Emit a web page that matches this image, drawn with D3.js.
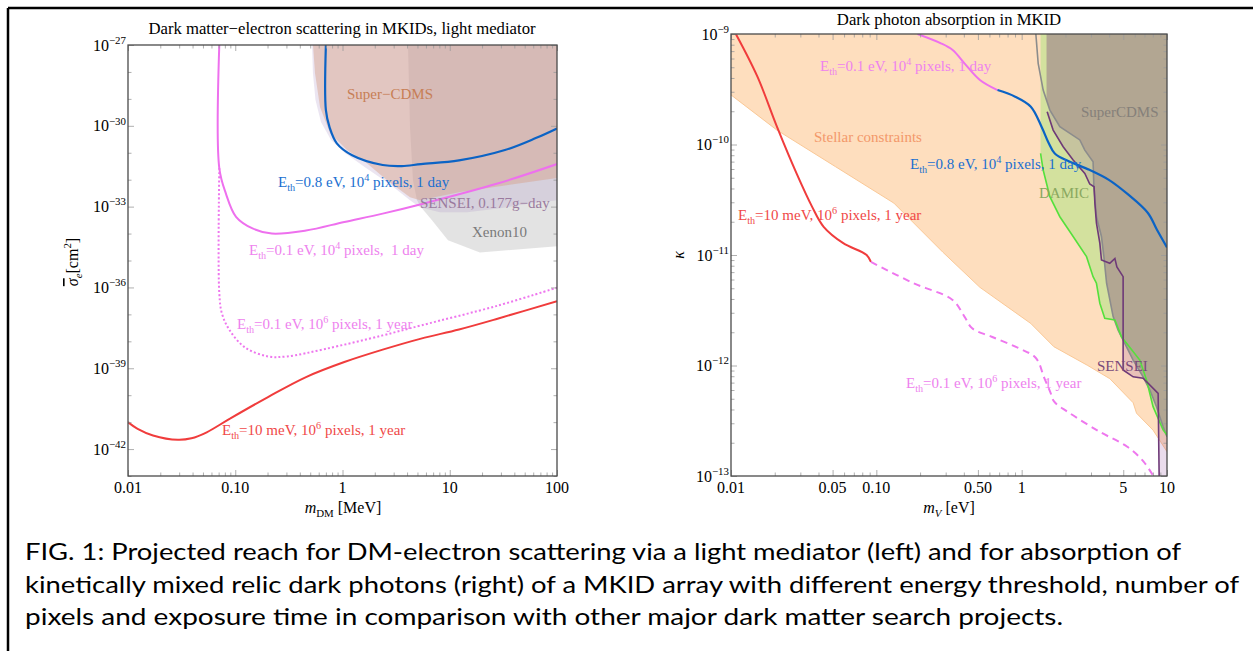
<!DOCTYPE html>
<html><head><meta charset="utf-8">
<script src="https://cdn.jsdelivr.net/npm/d3@7"></script>
<style>body{margin:0;background:#fff}svg{display:block}</style>
</head><body>
<svg id="c" width="1253" height="651"></svg>
<script>
// ---------------- LEFT PANEL DATA (m_DM in MeV, sigma_e in cm^2) ----------------
const leftBlueM=[0.70,0.70,0.757,0.885,1.23,2.37,3.57,5.4,12.2,32.7,63.4,100];
const leftBlueS=[1e-27,3.8e-30,8.9e-31,2.24e-31,8.1e-32,3.5e-32,3.2e-32,3.8e-32,5.2e-32,1.26e-31,3.5e-31,8.0e-31];
const leftMagDayM=[0.071,0.071,0.0817,0.1017,0.145,0.219,0.457,1.04,2.37,5.4,27.9,100];
const leftMagDayS=[1e-27,2.7e-32,3.1e-33,4.2e-34,1.55e-34,1.0e-34,1.3e-34,2.7e-34,5.5e-34,1.23e-33,7.2e-33,3.8e-32];
const leftMagYearM=[0.071,0.071,0.0752,0.0885,0.123,0.202,0.304,0.69,2.37,5.4,27.9,100];
const leftMagYearS=[2.7e-32,6.0e-37,1.07e-37,2.6e-38,6.0e-39,2.75e-39,2.75e-39,5.2e-39,1.66e-38,3.9e-38,2.1e-37,9.8e-37];
const leftRedM=[0.01,0.0123,0.0171,0.0292,0.039,0.0542,0.0885,0.202,0.457,1.04,2.37,5.4,12.2,27.9,100];
const leftRedS=[1.0e-41,5.6e-42,3.2e-42,2.2e-42,2.5e-42,4.2e-42,1.32e-41,8.5e-41,4.7e-40,1.7e-39,4.9e-39,1.26e-38,2.75e-38,6.9e-38,3.1e-37];
const superCdmsM=[0.531,0.554,0.617,0.765,1.10,1.69,2.60,4.26,5.28,12.5,100];
const superCdmsS=[1e-27,9.1e-29,5.0e-30,5.4e-31,1.26e-31,4.1e-32,9.5e-33,2.24e-33,1.74e-33,3.5e-33,1.15e-32];
const senseiLeftM=[0.52,0.53,0.56,0.63,0.782,1.055,1.62,2.77,4.26,5.28,8.1,14.5,29.4,59.7,100];
const senseiLeftS=[1e-27,9.1e-29,9.1e-30,1.38e-30,2.95e-31,9.8e-32,2.9e-32,6.8e-33,1.74e-33,9.5e-34,6.2e-34,6.2e-34,8.7e-34,1.35e-33,1.74e-33];
const xenonM=[4.08,4.26,4.54,4.95,5.4,6.83,9.63,19.1,100];
const xenonS=[1e-27,8.9e-31,9.5e-33,1.74e-33,9.5e-34,3.1e-34,5.6e-35,2.0e-35,3.4e-35];
const leftXTicks=[0.01,0.1,1,10,100];
const leftXTickLabels=["0.01","0.10","1","10","100"];
const leftYTickExps=[-27,-30,-33,-36,-39,-42];

// ---------------- RIGHT PANEL DATA (m_V in eV, kappa) ----------------
const stellarM=[0.01,0.0207,0.0524,0.132,0.287,0.516,1.156,1.665,2.85,4.04,5.85,6.17,8.02,10];
const stellarK=[2.81e-10,1.35e-10,6.3e-11,2.95e-11,1.06e-11,5.1e-12,2.4e-12,1.48e-12,1.0e-12,7.6e-13,4.6e-13,3.7e-13,2.6e-13,1.66e-13];
const damicM=[1.349,1.349,1.406,1.563,1.831,2.26,2.795,3.10,3.27,3.45,3.73,4.38,4.86,6.50,7.23,8.02,9.4,10];
const damicK=[1e-9,8.3e-11,5.87e-11,3.37e-11,2.22e-11,1.47e-11,9.66e-12,6.37e-12,5.55e-12,3.66e-12,2.67e-12,2.58e-12,1.82e-12,1.12e-12,7.4e-13,4.24e-13,2.61e-13,2.35e-13];
const cdmsLineM=[1.252,1.299,1.406,1.563,1.831,2.513,2.72,3.10,3.14,3.27,3.54,3.68,3.84,4.26,4.61,4.99,5.85,6.85,7.62,8.47,9.4,10];
const cdmsLineK=[1e-9,5.43e-10,3.11e-10,2.05e-10,1.45e-10,1.10e-10,8.9e-11,6.98e-11,4.15e-11,2.22e-11,1.47e-11,9.66e-12,5.55e-12,2.77e-12,2.09e-12,1.70e-12,1.12e-12,7.9e-13,6.0e-13,4.24e-13,2.79e-13,2.27e-13];
const cdmsFillEdgeM=[1.483,1.483];
const cdmsFillEdgeK=[1e-9,2.6e-10];
const senseiRightM=[1.497,1.647,1.93,2.26,2.72,2.94,3.15,3.19,3.27,3.45,3.54,4.04,4.38,4.52,4.99,4.99,5.85,6.85,8.69,8.83];
const senseiRightK=[1.98e-10,1.35e-10,9.55e-11,7.24e-11,5.48e-11,4.39e-11,4.15e-11,2.94e-11,1.94e-11,1.28e-11,9.0e-12,8.4e-12,9.3e-12,7.8e-12,6.37e-12,9.1e-13,7.9e-13,7.66e-13,5.6e-13,1e-13];
const rightRedM=[0.0108,0.0152,0.0207,0.0282,0.0361,0.0434,0.0592,0.0857,0.0918];
const rightRedK=[1e-9,4.11e-10,1.45e-10,5.5e-11,2.74e-11,1.80e-11,1.28e-11,1.0e-11,8.65e-12];
const rightMagM=[0.192,0.278,0.335,0.404,0.516,0.682];
const rightMagK=[1e-9,8.24e-10,7.16e-10,5.43e-10,3.84e-10,3.11e-10];
const rightBlueM=[0.682,0.902,1.156,1.37,1.525,1.69,2.146,2.924,3.98,5.37,7.39,8.51,10];
const rightBlueK=[3.11e-10,2.71e-10,2.20e-10,1.45e-10,1.05e-10,8.3e-11,6.98e-11,5.9e-11,4.79e-11,3.55e-11,2.40e-11,1.70e-11,1.17e-11];
const rightDashM=[0.0918,0.1805,0.3347,0.404,0.4566,0.622,0.96,1.252,1.432,1.574,1.675,2.078,3.45,5.33,6.9,8.05];
const rightDashK=[8.65e-12,5.55e-12,3.92e-12,2.77e-12,2.17e-12,1.82e-12,1.43e-12,1.17e-12,7.7e-13,5.75e-13,4.70e-13,3.80e-13,2.51e-13,1.84e-13,1.35e-13,1e-13];
const rightXTicks=[0.01,0.05,0.1,0.5,1,5,10];
const rightXTickLabels=["0.01","0.05","0.10","0.50","1","5","10"];
const rightYTickExps=[-9,-10,-11,-12,-13];

const captionLines=[
 "FIG. 1: Projected reach for DM-electron scattering via a light mediator (left) and for absorption of",
 "kinetically mixed relic dark photons (right) of a MKID array with different energy threshold, number of",
 "pixels and exposure time in comparison with other major dark matter search projects."
];

// ---------------- DRAWING ----------------
const svg=d3.select('#c');
const serif="'Liberation Serif','Times New Roman',serif";
const zip=(a,b)=>a.map((v,i)=>[v,b[i]]);

function rich(g,x,y,parts,o){
  const size=o.size||15;
  const t=g.append('text').attr('x',x).attr('y',y).attr('font-family',serif)
    .attr('font-size',size).attr('fill',o.color||'#000')
    .attr('text-anchor',o.anchor||'start').style('white-space','pre');
  let cur=0;
  parts.forEach(p=>{
    const s=p[0],k=p[1];
    const target=k==='sub'?size*0.28:(k==='sup'?-size*0.42:0);
    const ts=t.append('tspan').text(s).attr('dy',target-cur);
    if(k) ts.attr('font-size',size*0.68);
    if(p[2]) ts.attr('font-style','italic');
    cur=target;
  });
  return t;
}

function panel(cfg){
  const g=svg.append('g');
  const x=cfg.x,y=cfg.y;
  const [x0,x1]=x.range(),[y0,y1]=y.range();
  const clipId='clip'+cfg.id;
  g.append('clipPath').attr('id',clipId).append('rect')
    .attr('x',x0).attr('y',y1).attr('width',x1-x0).attr('height',y0-y1);
  const plot=g.append('g').attr('clip-path',`url(#${clipId})`);
  cfg.draw(plot);
  const tickCol='#9a9a9a';
  const mk=(axis,sc,vals,len,tr)=>{
    const a=g.append('g').attr('transform',tr)
      .call(axis(sc).tickValues(vals).tickSize(len).tickSizeOuter(0).tickFormat(''));
    a.select('.domain').remove();
    a.selectAll('line').attr('stroke',tickCol).attr('stroke-width',0.8);
  };
  mk(d3.axisBottom,x,cfg.xMajor,-6,`translate(0,${y0})`);
  mk(d3.axisBottom,x,cfg.xMinor,-3.5,`translate(0,${y0})`);
  mk(d3.axisTop,x,cfg.xMajor,-6,`translate(0,${y1})`);
  mk(d3.axisTop,x,cfg.xMinor,-3.5,`translate(0,${y1})`);
  mk(d3.axisLeft,y,cfg.yMajor,-6,`translate(${x0},0)`);
  mk(d3.axisLeft,y,cfg.yMinor,-3.5,`translate(${x0},0)`);
  mk(d3.axisRight,y,cfg.yMajor,-6,`translate(${x1},0)`);
  mk(d3.axisRight,y,cfg.yMinor,-3.5,`translate(${x1},0)`);
  g.append('rect').attr('x',x0).attr('y',y1).attr('width',x1-x0).attr('height',y0-y1)
    .attr('fill','none').attr('stroke','#4a4a4a').attr('stroke-width',1.3);
  cfg.xMajor.forEach((v,i)=>{
    g.append('text').attr('x',x(v)).attr('y',y0+17).attr('text-anchor','middle')
      .attr('font-family',serif).attr('font-size',16).text(cfg.xLabels[i]);
  });
  cfg.yMajor.forEach((v,i)=>{
    rich(g,x0-2,y(v)+5.5,[["10"],["\u2212"+(-cfg.yExps[i]),'sup']],{size:16,anchor:'end'});
  });
  return g;
}

function decadeMinors(lo,hi){
  const out=[];
  for(let d=lo;d<hi;d++) for(let k=2;k<=9;k++) out.push(k*Math.pow(10,d));
  return out;
}

// LEFT
const xL=d3.scaleLog().domain([0.01,100]).range([128,557]);
const yL=d3.scaleLog().domain([1e-43,1e-27]).range([476,45]);
const lineL=d3.line().x(d=>xL(d[0])).y(d=>yL(d[1]));
const smoothL=d3.line().x(d=>xL(d[0])).y(d=>yL(d[1])).curve(d3.curveCatmullRom.alpha(0.5));

const leftYMajor=leftYTickExps.map(e=>Math.pow(10,e));
const leftYMinor=d3.range(-43,-26).filter(e=>!leftYTickExps.includes(e)).map(e=>Math.pow(10,e));

panel({id:'L',x:xL,y:yL,xMajor:leftXTicks,xLabels:leftXTickLabels,xMinor:decadeMinors(-2,2),
  yMajor:leftYMajor,yExps:leftYTickExps,yMinor:leftYMinor,
  draw:(p)=>{
    p.append('path').attr('d',lineL(zip(xenonM,xenonS).concat([[100,1e-27]])))
      .attr('fill','rgb(150,150,150)').attr('fill-opacity',0.27);
    p.append('path').attr('d',lineL(zip(senseiLeftM,senseiLeftS).concat([[100,1e-27]])))
      .attr('fill','rgb(175,150,200)').attr('fill-opacity',0.25);
    p.append('path').attr('d',lineL(zip(superCdmsM,superCdmsS).concat([[100,1e-27]])))
      .attr('fill','rgb(215,160,135)').attr('fill-opacity',0.45);
    p.append('path').attr('d',smoothL(zip(leftRedM,leftRedS))).attr('fill','none')
      .attr('stroke','#f03c3c').attr('stroke-width',2);
    p.append('path').attr('d',smoothL(zip(leftMagYearM,leftMagYearS))).attr('fill','none')
      .attr('stroke','#ee77ee').attr('stroke-width',2).attr('stroke-dasharray','2,2.2');
    p.append('path').attr('d',smoothL(zip(leftMagDayM,leftMagDayS))).attr('fill','none')
      .attr('stroke','#ee70ee').attr('stroke-width',2);
    p.append('path').attr('d',smoothL(zip(leftBlueM,leftBlueS))).attr('fill','none')
      .attr('stroke','#0b63c5').attr('stroke-width',2.2);
  }});

const gL=svg.append('g');
gL.append('text').attr('x',342).attr('y',34).attr('text-anchor','middle').attr('font-family',serif)
  .attr('font-size',16.7).text('Dark matter\u2212electron scattering in MKIDs, light mediator');
rich(gL,343,513,[["m",'',1],["DM",'sub'],[" [MeV]"]],{size:16,anchor:'middle'});
{
  const yl=gL.append('g').attr('transform','translate(78,262) rotate(-90)');
  const t=rich(yl,0,0,[["\u03C3",'',1],["e",'sub',1],["[cm"],["2",'sup'],["]"]],{size:16,anchor:'middle'});
  t.select('tspan').style('text-decoration','overline');
}
rich(gL,347,99,[["Super\u2212CDMS"]],{color:'#c77e55'});
rich(gL,278,187,[["E"],["th",'sub'],["=0.8 eV, 10"],["4",'sup'],[" pixels, 1 day"]],{color:'#1a6fd0'});
rich(gL,420,208,[["SENSEI, 0.177g\u2212day"]],{color:'#9a7a9e'});
rich(gL,472,237,[["Xenon10"]],{color:'#7a7a7a'});
rich(gL,249,255,[["E"],["th",'sub'],["=0.1 eV, 10"],["4",'sup'],[" pixels,  1 day"]],{color:'#ee82ee'});
rich(gL,237,329,[["E"],["th",'sub'],["=0.1 eV, 10"],["6",'sup'],[" pixels, 1 year"]],{color:'#ee82ee'});
rich(gL,222,435,[["E"],["th",'sub'],["=10 meV, 10"],["6",'sup'],[" pixels, 1 year"]],{color:'#f04848'});

// RIGHT
const xR=d3.scaleLog().domain([0.01,10]).range([731,1167]);
const yR=d3.scaleLog().domain([1e-13,1e-9]).range([476,34]);
const lineR=d3.line().x(d=>xR(d[0])).y(d=>yR(d[1]));
const smoothR=d3.line().x(d=>xR(d[0])).y(d=>yR(d[1])).curve(d3.curveCatmullRom.alpha(0.5));
const rightYMajor=rightYTickExps.map(e=>Math.pow(10,e));
const rightXMinor=decadeMinors(-2,1).filter(v=>!rightXTicks.some(t=>Math.abs(t-v)/t<1e-6));

panel({id:'R',x:xR,y:yR,xMajor:rightXTicks,xLabels:rightXTickLabels,xMinor:rightXMinor,
  yMajor:rightYMajor,yExps:rightYTickExps,yMinor:decadeMinors(-13,-9),
  draw:(p)=>{
    p.append('path').attr('d',lineR(zip(stellarM,stellarK).concat([[10,1e-9],[0.01,1e-9]])))
      .attr('fill','rgb(254,222,190)');
    p.append('path').attr('d',lineR(zip(stellarM,stellarK))).attr('fill','none')
      .attr('stroke','rgb(250,200,150)').attr('stroke-width',1);
    p.append('path').attr('d',lineR(zip(damicM,damicK).concat([[10,1e-9]])))
      .attr('fill','rgb(200,225,150)').attr('fill-opacity',0.8);
    p.append('path').attr('d',lineR(zip(senseiRightM,senseiRightK).concat([[10,1e-13],[10,1.98e-10]])))
      .attr('fill','rgb(150,80,160)').attr('fill-opacity',0.2);
    const cdmsPoly=zip(cdmsFillEdgeM,cdmsFillEdgeK).concat(zip(cdmsLineM,cdmsLineK).slice(3)).concat([[10,1e-9]]);
    p.append('path').attr('d',lineR(cdmsPoly)).attr('fill','rgb(178,166,146)');
    p.append('path').attr('d',lineR(zip(cdmsLineM,cdmsLineK))).attr('fill','none')
      .attr('stroke','#8c8c8c').attr('stroke-width',1.6);
    p.append('path').attr('d',lineR(zip(damicM,damicK).slice(1))).attr('fill','none')
      .attr('stroke','#55e03c').attr('stroke-width',1.6);
    p.append('path').attr('d',lineR(zip(senseiRightM,senseiRightK))).attr('fill','none')
      .attr('stroke','#6e3a78').attr('stroke-width',1.6);
    p.append('path').attr('d',smoothR(zip(rightRedM,rightRedK))).attr('fill','none')
      .attr('stroke','#f03c3c').attr('stroke-width',2);
    p.append('path').attr('d',smoothR(zip(rightDashM,rightDashK))).attr('fill','none')
      .attr('stroke','#ee77ee').attr('stroke-width',2).attr('stroke-dasharray','7,5');
    p.append('path').attr('d',smoothR(zip(rightMagM,rightMagK))).attr('fill','none')
      .attr('stroke','#ee70ee').attr('stroke-width',2);
    p.append('path').attr('d',smoothR(zip(rightBlueM,rightBlueK))).attr('fill','none')
      .attr('stroke','#0b63c5').attr('stroke-width',2.2);
  }});

const gR=svg.append('g');
gR.append('text').attr('x',949).attr('y',25).attr('text-anchor','middle').attr('font-family',serif)
  .attr('font-size',16.7).text('Dark photon absorption in MKID');
rich(gR,949,513,[["m",'',1],["V",'sub',1],[" [eV]"]],{size:16,anchor:'middle'});
gR.append('text').attr('transform','translate(684,255) rotate(-90)').attr('text-anchor','middle')
  .attr('font-family',serif).attr('font-size',16).attr('font-style','italic').text('\u03BA');
rich(gR,820,71,[["E"],["th",'sub'],["=0.1 eV, 10"],["4",'sup'],[" pixels, 1 day"]],{color:'#ee82ee'});
rich(gR,1081,117,[["SuperCDMS"]],{color:'#85807a'});
rich(gR,814,142,[["Stellar constraints"]],{color:'#f3986a'});
rich(gR,910,169,[["E"],["th",'sub'],["=0.8 eV, 10"],["4",'sup'],[" pixels, 1 day"]],{color:'#1a6fd0'});
rich(gR,1039,198,[["DAMIC"]],{color:'#8aa860'});
rich(gR,738,220,[["E"],["th",'sub'],["=10 meV, 10"],["6",'sup'],[" pixels, 1 year"]],{color:'#f04848'});
rich(gR,1097,371,[["SENSEI"]],{color:'#7a4a7a'});
rich(gR,906,388,[["E"],["th",'sub'],["=0.1 eV, 10"],["6",'sup'],[" pixels, 1 year"]],{color:'#ee82ee'});

// border + caption
svg.append('line').attr('x1',8).attr('x2',1253).attr('y1',8).attr('y2',8).attr('stroke','#000').attr('stroke-width',2.5);
svg.append('line').attr('x1',8).attr('x2',8).attr('y1',8).attr('y2',651).attr('stroke','#000').attr('stroke-width',2.5);
const capW=[1156,1214,1038];
const capY=[560,593,625];
captionLines.forEach((s,i)=>{
  svg.append('text').attr('x',25).attr('y',capY[i]).attr('font-family',"Lato,'Open Sans',sans-serif")
    .attr('font-size',22.5).attr('textLength',capW[i]).attr('lengthAdjust','spacingAndGlyphs').text(s);
});
</script>
</body></html>
